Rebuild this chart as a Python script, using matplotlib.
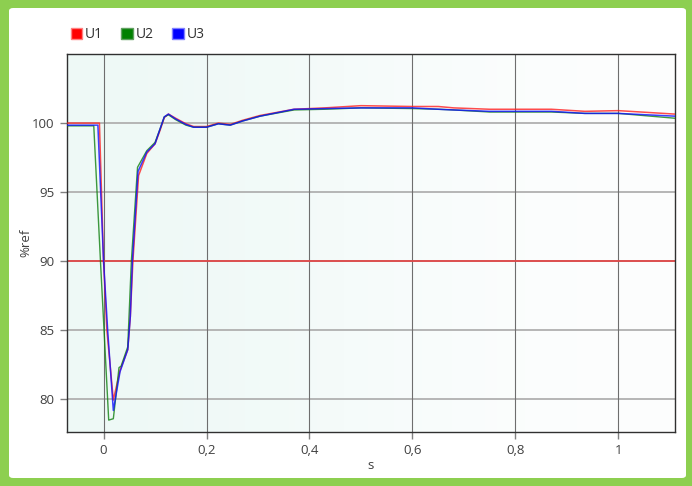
import matplotlib
matplotlib.use('Agg')
import matplotlib.pyplot as plt
from matplotlib.patches import Patch, FancyBboxPatch
import numpy as np

plt.rcParams['font.family'] = ['Open Sans', 'DejaVu Sans']
plt.rcParams['font.size'] = 9.5

# time (s) and voltage (%ref)
t_u1 = [-0.071, -0.008, 0.0, 0.0065, 0.019, 0.032, 0.047, 0.052, 0.057, 0.068,
        0.084, 0.100, 0.110, 0.118, 0.126, 0.140, 0.160, 0.175, 0.200, 0.223,
        0.246, 0.270, 0.304, 0.370, 0.430, 0.500, 0.600, 0.650, 0.680, 0.750,
        0.870, 0.935, 1.000, 1.110]
u1 = [100.0, 100.0, 90.0, 85.0, 79.95, 82.1, 83.6, 86.0, 90.0, 96.2,
      97.8, 98.5, 99.5, 100.4, 100.65, 100.35, 99.95, 99.75, 99.75, 100.0,
      99.9, 100.2, 100.55, 101.0, 101.1, 101.26, 101.2, 101.2, 101.1, 101.0,
      101.0, 100.85, 100.9, 100.65]

t_u2 = [-0.071, -0.019, -0.006, 0.010, 0.019, 0.025, 0.030, 0.034, 0.047, 0.054,
        0.066, 0.084, 0.100, 0.110, 0.118, 0.126, 0.140, 0.160, 0.175, 0.200,
        0.223, 0.246, 0.270, 0.304, 0.370, 0.430, 0.500, 0.600, 0.650, 0.680,
        0.750, 0.870, 0.935, 1.000, 1.110]
u2 = [99.8, 99.8, 90.0, 78.5, 78.6, 80.6, 82.3, 82.4, 83.8, 90.0,
      96.8, 98.0, 98.6, 99.6, 100.45, 100.6, 100.25, 99.85, 99.7, 99.7,
      99.95, 99.85, 100.15, 100.5, 100.95, 101.0, 101.1, 101.05, 101.0, 100.95,
      100.8, 100.8, 100.7, 100.7, 100.35]

t_u3 = [-0.071, -0.011, 0.0, 0.008, 0.019, 0.032, 0.047, 0.052, 0.056, 0.067,
        0.084, 0.100, 0.110, 0.118, 0.126, 0.140, 0.160, 0.175, 0.200, 0.223,
        0.246, 0.270, 0.304, 0.370, 0.430, 0.500, 0.600, 0.650, 0.680, 0.750,
        0.870, 0.935, 1.000, 1.110]
u3 = [99.85, 99.85, 90.0, 85.0, 79.2, 82.0, 83.6, 86.0, 90.0, 96.5,
      97.9, 98.5, 99.6, 100.45, 100.65, 100.3, 99.9, 99.7, 99.7, 99.95,
      99.85, 100.15, 100.5, 101.0, 101.05, 101.1, 101.1, 101.0, 100.95, 100.85,
      100.85, 100.7, 100.7, 100.5]

limit = 90
xticks = [0, 0.2, 0.4, 0.6, 0.8, 1.0]
xlabels = ['0', '0,2', '0,4', '0,6', '0,8', '1']
yticks = [80, 85, 90, 95, 100]

fig = plt.figure(figsize=(6.92, 4.86), dpi=100, facecolor='#8dcf50')
card = FancyBboxPatch((9 / 692, 8 / 486), 677 / 692, 470 / 486,
                      boxstyle='round,pad=0,rounding_size=0.006',
                      transform=fig.transFigure, facecolor='white',
                      edgecolor='none', zorder=-10)
fig.patches.append(card)

ax = fig.add_axes([67 / 692, 54.3 / 486, 608 / 692, 377.7 / 486])

# soft mint background, fading to the right
grad = np.array([[0.0, 0.6, 1.0], [0.0, 0.6, 1.0]])
cmap = matplotlib.colors.LinearSegmentedColormap.from_list('bg', ['#eef9f6', '#f5fbfa', '#fdfefe'])
ax.imshow(grad, extent=[0, 1, 0, 1], transform=ax.transAxes, aspect='auto',
          cmap=cmap, interpolation='bicubic', zorder=0)

for yv in yticks:
    ax.axhline(yv, color='#b0b0b0', lw=1.3, zorder=1)
for xv in xticks:
    ax.axvline(xv, color='#6e6e6e', lw=0.8, zorder=1)

ax.axhline(limit, color='#e04848', lw=1.3, zorder=2)
ax.plot(t_u1, u1, color='#ff2020', lw=1.1, alpha=0.8, zorder=3)
ax.plot(t_u2, u2, color='#108010', lw=1.0, alpha=0.8, zorder=3)
ax.plot(t_u3, u3, color='#1010ff', lw=1.1, alpha=0.8, zorder=4)

ax.set_xlim(-0.071, 1.110)
ax.set_ylim(77.66, 105.0)
ax.set_xticks(xticks)
ax.set_xticklabels(xlabels)
ax.set_yticks(yticks)
ax.tick_params(direction='out', length=5, width=1, color='#808080',
               labelcolor='#404040', pad=4)
for sp in ax.spines.values():
    sp.set_color('#303030')
    sp.set_linewidth(1)

ax.set_xlabel('s', color='#404040', labelpad=1)
ax.set_ylabel('%ref', color='#404040', labelpad=0)

handles = [Patch(facecolor='#ff0000', edgecolor='#ff8080'),
           Patch(facecolor='#008000', edgecolor='#60a060'),
           Patch(facecolor='#0000ff', edgecolor='#8080ff')]
fig.legend(handles, ['U1', 'U2', 'U3'], loc='upper left',
           bbox_to_anchor=(0.084, 0.97), ncol=3, frameon=False, fontsize=10,
           handlelength=0.85, handleheight=0.85, handletextpad=0.2,
           columnspacing=1.3, labelcolor='#303030')

fig.savefig('out.png', dpi=100, facecolor=fig.get_facecolor())
